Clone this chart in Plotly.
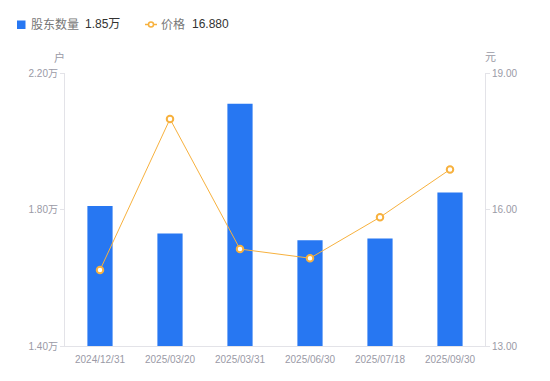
import plotly.graph_objects as go

dates = ["2024/12/31", "2025/03/20", "2025/03/31", "2025/06/30", "2025/07/18", "2025/09/30"]
holders = [1.81, 1.73, 2.11, 1.71, 1.715, 1.85]  # 万户
prices = [14.67, 17.99, 15.13, 14.93, 15.83, 16.88]

left_ticks = [1.40, 1.80, 2.20]
left_labels = ["1.40万", "1.80万", "2.20万"]
right_ticks = [13, 16, 19]
right_labels = ["13.00", "16.00", "19.00"]

FONT = "Liberation Sans, Noto Sans CJK SC, sans-serif"
BLUE = "#2777f2"
ORANGE = "#f7b13e"
GRAY = "#9a9aa6"

# page has an 8px body margin; compensate so plot lands at page px 65..485 x 73..346
OFF = 8
W, H = 550, 381
L, R, T, B = 65 - OFF, 550 - (485 - OFF), 73 - OFF, 381 - (346 - OFF)
pw, ph = W - L - R, H - T - B


def px(x):
    return (x - OFF - L) / pw


def py(y):
    return (H - B - (y - OFF)) / ph


fig = go.Figure()
fig.add_trace(go.Bar(
    x=dates, y=holders, name="股东数量",
    marker=dict(color=BLUE, line=dict(width=0)), width=0.36, yaxis="y",
))
fig.add_trace(go.Scatter(
    x=dates, y=prices, name="价格",
    mode="lines+markers", yaxis="y2",
    line=dict(color=ORANGE, width=1),
    marker=dict(symbol="circle", size=6.5, color="white", line=dict(color=ORANGE, width=2)),
))

ann = lambda text, x, y, color, size, anchor="left": dict(
    text=text, x=px(x), y=py(y), xref="paper", yref="paper", showarrow=False,
    xanchor=anchor, yanchor="middle", font=dict(size=size, color=color, family=FONT))

fig.update_layout(
    width=W, height=H,
    margin=dict(l=L, r=R, t=T, b=B, autoexpand=False),
    paper_bgcolor="white", plot_bgcolor="white",
    font=dict(family=FONT, color=GRAY, size=10),
    showlegend=False,
    xaxis=dict(type="category", showgrid=False, showline=True, linecolor="#e3e3e8",
               ticks="", ticklabelstandoff=4, tickfont=dict(size=10, color=GRAY)),
    yaxis=dict(range=[1.40, 2.20], tickvals=left_ticks, ticktext=left_labels,
               showgrid=False, showline=True, linecolor="#e3e3e8", zeroline=False,
               ticks="outside", ticklen=4, tickcolor="#e3e3e8",
               tickfont=dict(size=10, color=GRAY)),
    yaxis2=dict(range=[13, 19], tickvals=right_ticks, ticktext=right_labels,
                overlaying="y", side="right", showgrid=False, showline=True,
                linecolor="#e3e3e8", zeroline=False,
                ticks="outside", ticklen=4, tickcolor="#e3e3e8",
                tickfont=dict(size=10, color=GRAY)),
    annotations=[
        ann("户", 59, 57, GRAY, 11, "center"),
        ann("元", 490, 57, GRAY, 11, "center"),
        ann("股东数量", 29, 24.5, "#777", 12),
        ann(f"{holders[-1]:.2f}万", 83, 24.5, "#333", 12),
        ann("价格", 159, 24.5, "#777", 12),
        ann(f"{prices[-1]:.3f}", 190, 24.5, "#333", 12),
    ],
    shapes=[
        dict(type="rect", xref="paper", yref="paper", x0=px(17), x1=px(25.5), y0=py(20.5), y1=py(29),
             fillcolor=BLUE, line=dict(width=0)),
        dict(type="line", xref="paper", yref="paper", x0=px(145), x1=px(157), y0=py(24.5), y1=py(24.5),
             line=dict(color=ORANGE, width=1.5)),
        dict(type="circle", xref="paper", yref="paper", x0=px(148.5), x1=px(153.5), y0=py(22), y1=py(27),
             fillcolor="white", line=dict(color=ORANGE, width=1.5)),
    ],
)

fig.write_html("out.html")
